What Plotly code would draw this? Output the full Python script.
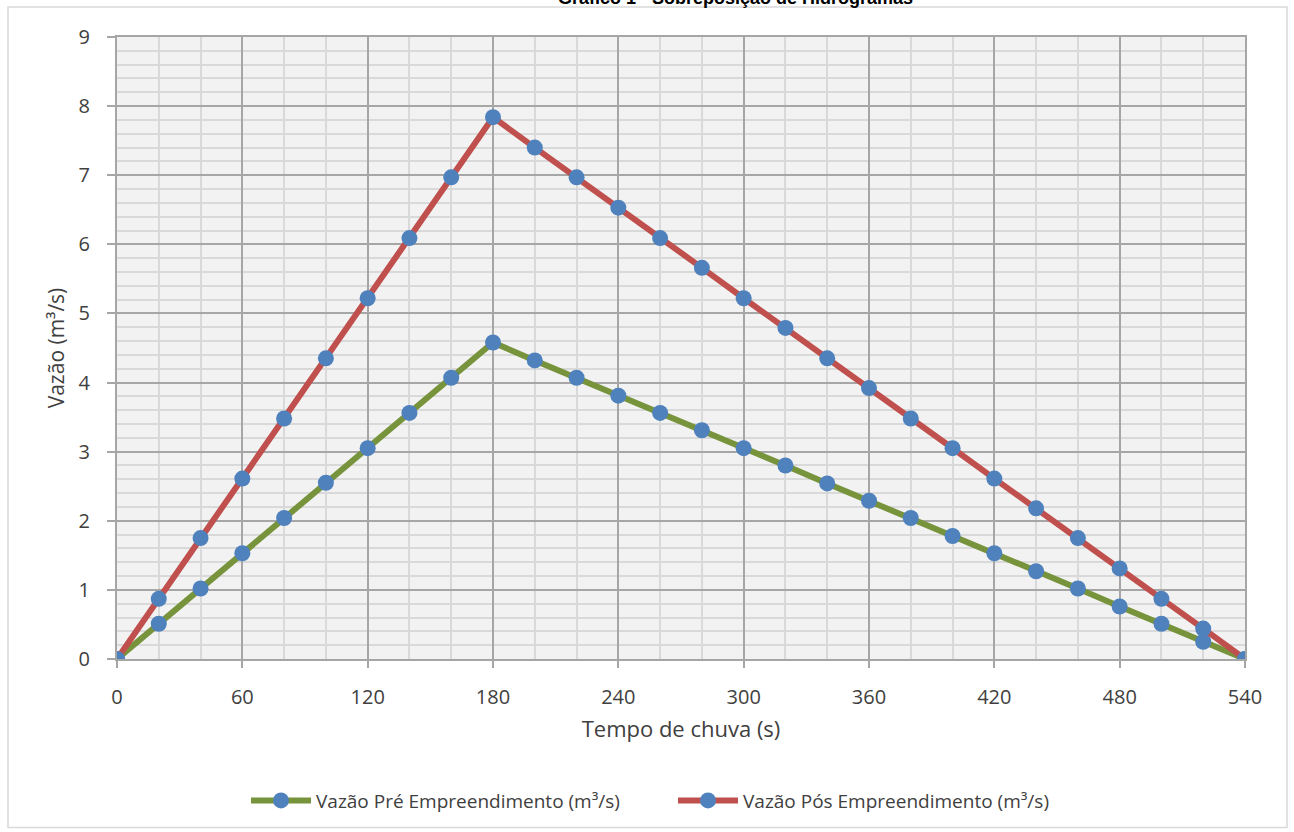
import plotly.graph_objects as go

tempo = [0, 20, 40, 60, 80, 100, 120, 140, 160, 180, 200, 220, 240, 260,
         280, 300, 320, 340, 360, 380, 400, 420, 440, 460, 480, 500, 520, 540]
vazao_pre = [0, 0.51, 1.02, 1.53, 2.04, 2.55, 3.05, 3.56, 4.07, 4.58,
             4.32, 4.07, 3.81, 3.56, 3.31, 3.05, 2.80, 2.54, 2.29, 2.04,
             1.78, 1.53, 1.27, 1.02, 0.76, 0.51, 0.25, 0]
vazao_pos = [0, 0.87, 1.75, 2.61, 3.48, 4.35, 5.22, 6.09, 6.97, 7.84,
             7.40, 6.97, 6.53, 6.09, 5.66, 5.22, 4.79, 4.35, 3.92, 3.48,
             3.05, 2.61, 2.18, 1.75, 1.31, 0.87, 0.44, 0]
nomes = ["Vazão Pré Empreendimento (m³/s)", "Vazão Pós Empreendimento (m³/s)"]
titulo = "Gráfico 1 - Sobreposição de Hidrogramas"
x_ticks = [0, 60, 120, 180, 240, 300, 360, 420, 480, 540]

L, R, T, B = 117, 1245, 37, 661
W, H = R - L, B - T
def px(x): return (x - L) / W
def py(y): return (B - y) / H

fig = go.Figure()
fig.add_trace(go.Scatter(x=tempo, y=vazao_pre, name=nomes[0], mode="lines+markers",
                         line=dict(color="#77933C", width=6),
                         marker=dict(color="#4F81BD", size=16)))
fig.add_trace(go.Scatter(x=tempo, y=vazao_pos, name=nomes[1], mode="lines+markers",
                         line=dict(color="#C0504D", width=6),
                         marker=dict(color="#4F81BD", size=16)))

font_tick = dict(family="Open Sans", size=20, color="#404040")
fig.update_layout(
    width=1294, height=832,
    margin=dict(l=L, r=1294 - R, t=T, b=832 - B),
    paper_bgcolor="white", plot_bgcolor="#F2F2F2",
    showlegend=True,
    legend=dict(orientation="h", x=px(246), xanchor="left", y=py(803), yanchor="middle",
                font=dict(family="Open Sans", size=19, color="#404040"),
                itemwidth=60, entrywidth=352, entrywidthmode="pixels",
                bgcolor="rgba(0,0,0,0)"),
    xaxis=dict(range=[0, 540], tickvals=x_ticks, showgrid=True, gridcolor="#A6A6A6", gridwidth=2,
               minor=dict(dtick=20, tick0=0, showgrid=True, gridcolor="#D9D9D9", gridwidth=2, ticks=""),
               ticks="outside", ticklen=7, tickwidth=2, tickcolor="#A6A6A6",
               showline=True, linecolor="#A6A6A6", linewidth=2, mirror=True,
               zeroline=False, tickfont=font_tick, ticklabelstandoff=12,
               title=dict(text="Tempo de chuva (s)", font=dict(family="Open Sans", size=22, color="#404040"),
                          standoff=13)),
    yaxis=dict(range=[0, 9], dtick=1, tick0=0, showgrid=True, gridcolor="#A6A6A6", gridwidth=2,
               minor=dict(dtick=0.2, tick0=0, showgrid=True, gridcolor="#D9D9D9", gridwidth=2, ticks=""),
               ticks="outside", ticklen=8, tickwidth=2, tickcolor="#A6A6A6",
               showline=True, linecolor="#A6A6A6", linewidth=2, mirror=True,
               zeroline=False, tickfont=font_tick, ticklabelstandoff=13,
               title=dict(text="Vazão (m³/s)", font=dict(family="Open Sans", size=21, color="#404040"),
                          standoff=8)),
    shapes=[dict(type="rect", xref="paper", yref="paper",
                 x0=px(8), x1=px(1287), y0=py(830), y1=py(7),
                 line=dict(color="#D9D9D9", width=1.5), fillcolor="rgba(0,0,0,0)", layer="below")],
    annotations=[dict(text="<b>" + titulo + "</b>", xref="paper", yref="paper",
                      x=px(735), y=py(10), xanchor="center", yanchor="bottom", showarrow=False,
                      font=dict(family="Liberation Sans", size=18, color="#000000"))],
)
fig.write_html("out.html", config={"displayModeBar": False},
               post_script="document.body.style.margin='0';")
